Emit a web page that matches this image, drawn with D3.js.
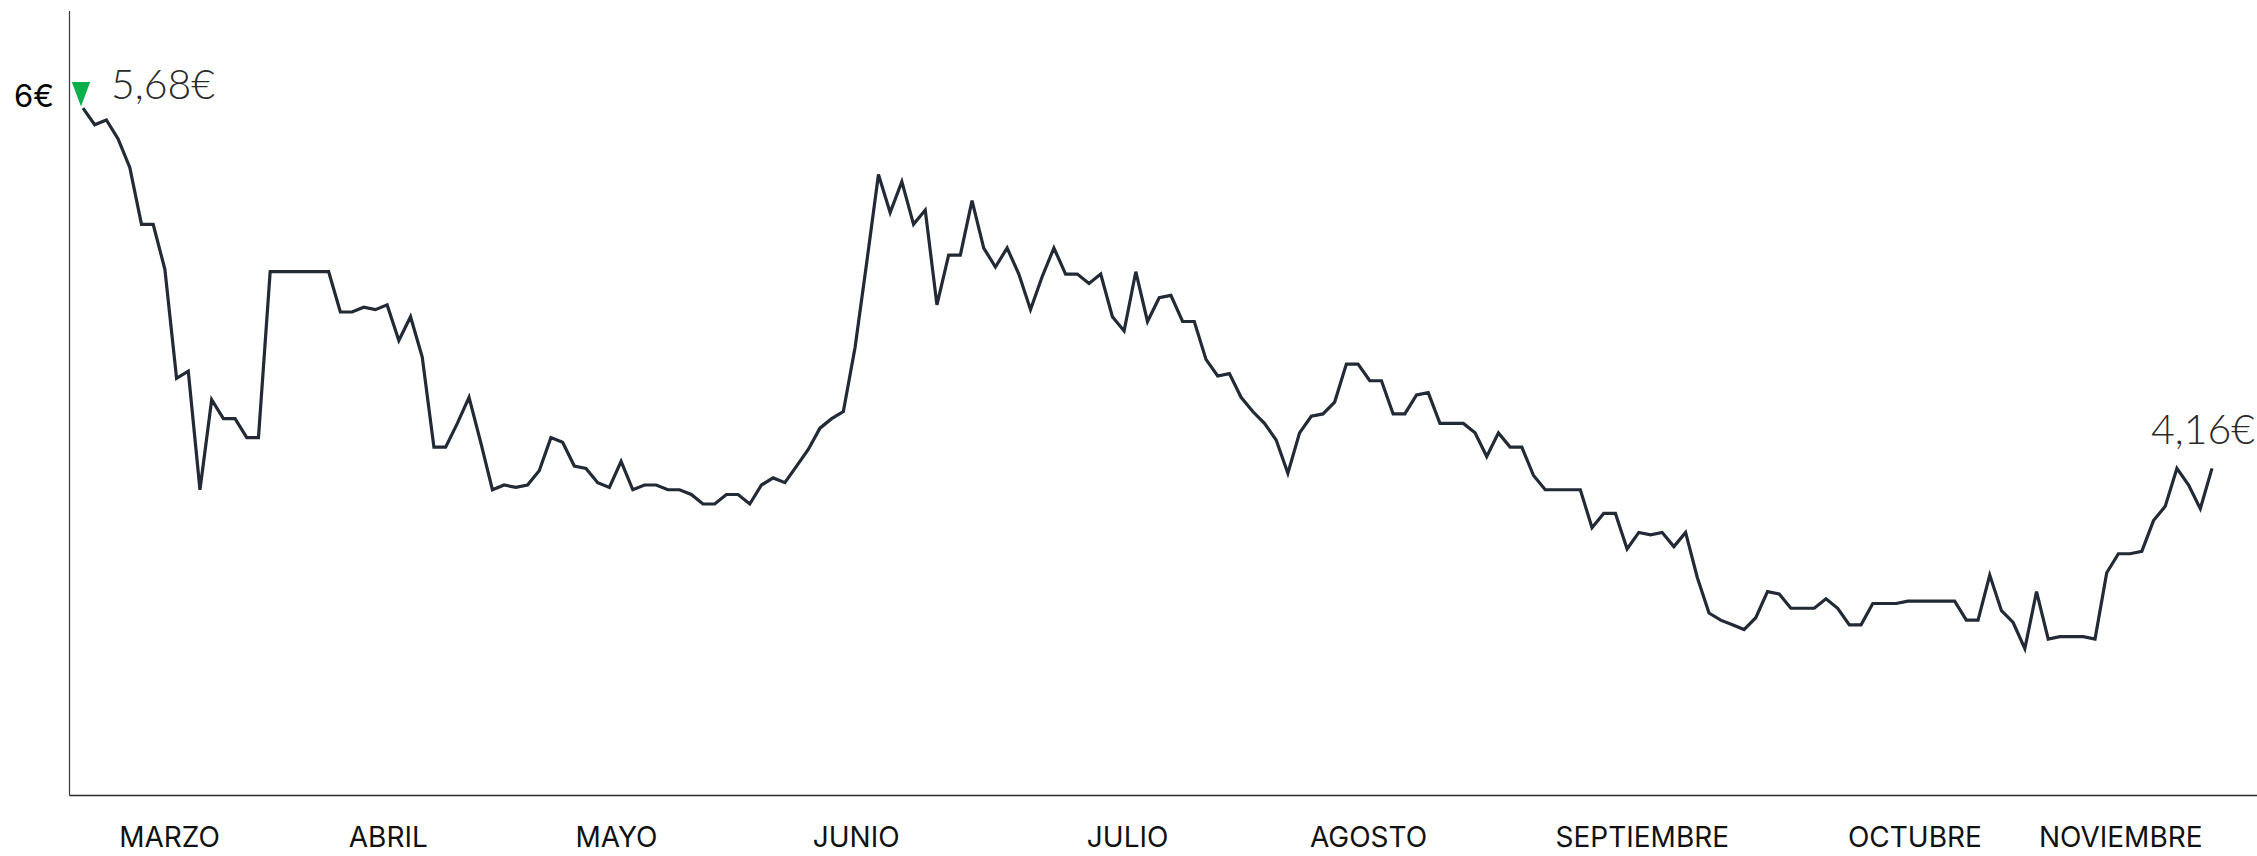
<!DOCTYPE html>
<html>
<head>
<meta charset="utf-8">
<script src="https://cdn.jsdelivr.net/npm/d3@7"></script>
<style>
  html, body { margin: 0; padding: 0; background: #ffffff; }
  svg { display: block; }
</style>
</head>
<body>
<svg id="chart" width="2257" height="856"></svg>
<script>
// ---- data ----
const months = ["MARZO", "ABRIL", "MAYO", "JUNIO", "JULIO", "AGOSTO", "SEPTIEMBRE", "OCTUBRE", "NOVIEMBRE"];
// label centre, expressed as position along the series (point index)
const monthPos = [7.4, 26.1, 45.6, 66.1, 89.3, 109.9, 133.3, 156.6, 174.2];
const yLabel = "6€";
const prices = [
  5.68,5.61,5.63,5.55,5.43,5.19,5.19,5.00,4.54,4.57,
  4.07,4.45,4.37,4.37,4.29,4.29,4.99,4.99,4.99,4.99,
  4.99,4.99,4.82,4.82,4.84,4.83,4.85,4.70,4.80,4.63,
  4.25,4.25,4.35,4.46,4.27,4.07,4.09,4.08,4.09,4.15,
  4.29,4.27,4.17,4.16,4.10,4.08,4.19,4.07,4.09,4.09,
  4.07,4.07,4.05,4.01,4.01,4.05,4.05,4.01,4.09,4.12,
  4.10,4.17,4.24,4.33,4.37,4.40,4.67,5.03,5.40,5.24,
  5.37,5.19,5.25,4.85,5.06,5.06,5.29,5.09,5.01,5.09,
  4.98,4.83,4.97,5.09,4.98,4.98,4.94,4.98,4.80,4.74,
  4.99,4.78,4.88,4.89,4.78,4.78,4.62,4.55,4.56,4.46,
  4.40,4.35,4.28,4.14,4.31,4.38,4.39,4.44,4.60,4.60,
  4.53,4.53,4.39,4.39,4.47,4.48,4.35,4.35,4.35,4.31,
  4.21,4.31,4.25,4.25,4.13,4.07,4.07,4.07,4.07,3.91,
  3.97,3.97,3.82,3.89,3.88,3.89,3.83,3.89,3.70,3.55,
  3.52,3.50,3.48,3.53,3.64,3.63,3.57,3.57,3.57,3.61,
  3.57,3.50,3.50,3.59,3.59,3.59,3.60,3.60,3.60,3.60,
  3.60,3.52,3.52,3.71,3.56,3.51,3.40,3.64,3.44,3.45,
  3.45,3.45,3.44,3.72,3.80,3.80,3.81,3.94,4.00,4.16,
  4.09,3.99,4.16
];
const yDomain = [2.78, 6.09];

// ---- layout ----
const W = 2257, H = 856;
const axisX = 69.5, axisTop = 11, axisBottom = 795.5;
const plotLeft = 83, plotRight = 2212;

const svg = d3.select("#chart");

const x = d3.scaleLinear().domain([0, prices.length - 1]).range([plotLeft, plotRight]);
const y = d3.scaleLinear().domain(yDomain).range([axisBottom, axisTop]);

const fmt = v => d3.format(".2f")(v).replace(".", ",") + "€";

// axes lines
svg.append("line")
  .attr("x1", axisX).attr("x2", axisX)
  .attr("y1", axisTop).attr("y2", axisBottom)
  .attr("stroke", "#3a3a3a").attr("stroke-width", 1.2);

svg.append("line")
  .attr("x1", axisX).attr("x2", W)
  .attr("y1", axisBottom).attr("y2", axisBottom)
  .attr("stroke", "#2a2a2a").attr("stroke-width", 1.4);

// month labels
svg.append("g").selectAll("text")
  .data(months)
  .join("text")
  .attr("x", (d, i) => x(monthPos[i]))
  .attr("y", 847)
  .attr("text-anchor", "middle")
  .attr("font-family", "Inter, 'Noto Sans', sans-serif")
  .attr("font-size", 28)
  .attr("font-weight", 400)
  .attr("fill", "#111")
  .text(d => d);

// price line
const line = d3.line()
  .x((d, i) => x(i))
  .y(d => y(d));

svg.append("path")
  .datum(prices)
  .attr("d", line)
  .attr("fill", "none")
  .attr("stroke", "#222a35")
  .attr("stroke-width", 3.2)
  .attr("stroke-linejoin", "miter");

// start annotations
const y0 = y(prices[0]);
const x0 = x(0);

svg.append("text")
  .attr("x", 54)
  .attr("y", y0 - 1)
  .attr("text-anchor", "end")
  .attr("font-family", "Inter, 'Noto Sans', sans-serif")
  .attr("font-size", 31)
  .attr("font-weight", 400)
  .attr("fill", "#000")
  .text(yLabel);

const tri = d3.symbol().type(d3.symbolTriangle).size(260);
svg.append("path")
  .attr("d", tri())
  .attr("transform", `translate(${x0 - 2},${y0 - 18}) rotate(180) scale(0.75,1.15)`)
  .attr("fill", "#0bb04c");

svg.append("text")
  .attr("x", 111)
  .attr("y", y0 - 9)
  .attr("font-family", "Lato, Inter, sans-serif")
  .attr("font-size", 41)
  .attr("font-weight", 300)
  .attr("fill", "#2a2a2a")
  .text(fmt(prices[0]));

// end annotation
const last = prices.length - 1;
svg.append("text")
  .attr("x", W - 2)
  .attr("y", y(prices[last]) - 24)
  .attr("text-anchor", "end")
  .attr("font-family", "Lato, Inter, sans-serif")
  .attr("font-size", 41)
  .attr("font-weight", 300)
  .attr("fill", "#2a2a2a")
  .text(fmt(prices[last]));
</script>
</body>
</html>
